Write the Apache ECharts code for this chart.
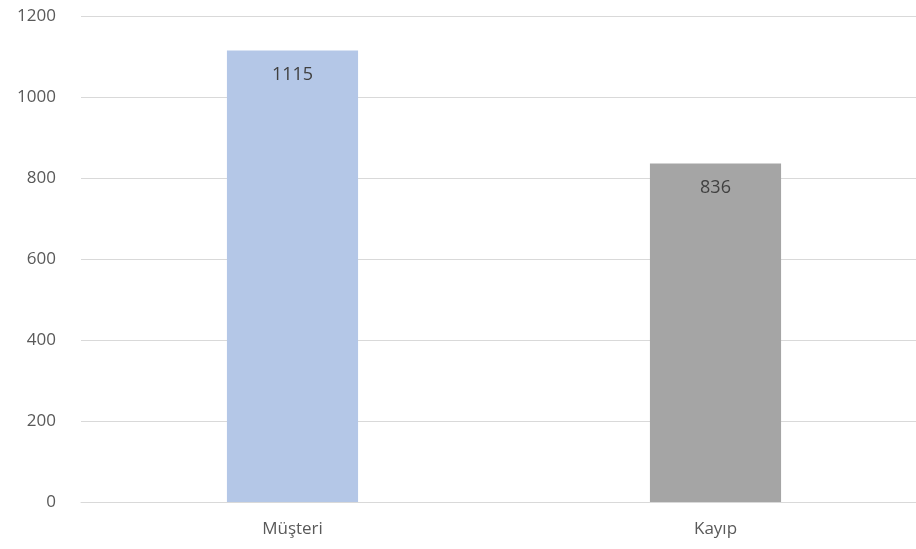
<!DOCTYPE html>
<html>
<head>
<meta charset="utf-8">
<script src="https://cdn.jsdelivr.net/npm/echarts@6/dist/echarts.min.js"></script>
<style>
  html, body { margin: 0; padding: 0; background: #ffffff; overflow: hidden; }
  /* the plot area runs slightly past the right edge of the visible page */
  #chart { width: 927px; height: 549px; }
</style>
</head>
<body>
<div id="chart"></div>
<script>
// Customer count vs. churned customers
const categories = ['Müşteri', 'Kayıp'];
const values = [1115, 836];
const barColors = ['#B4C7E7', '#A5A5A5'];
const yTicks = [0, 200, 400, 600, 800, 1000, 1200];

const textFont = 'Open Sans';

const chart = echarts.init(document.getElementById('chart'));
chart.setOption({
  backgroundColor: '#ffffff',
  animation: false,
  grid: { left: 81, right: 0, top: 16, bottom: 47, containLabel: false },
  xAxis: {
    type: 'category',
    data: categories,
    axisLine: { lineStyle: { color: '#D9D9D9', width: 1 } },
    axisTick: { show: false },
    axisLabel: { color: '#595959', fontSize: 17, fontFamily: textFont, margin: 19 }
  },
  yAxis: {
    type: 'value',
    min: yTicks[0],
    max: yTicks[yTicks.length - 1],
    interval: 200,
    axisLine: { show: false },
    axisTick: { show: false },
    splitLine: { lineStyle: { color: '#D9D9D9', width: 1 } },
    axisLabel: {
      color: '#595959', fontSize: 17, fontFamily: textFont, margin: 25,
      formatter: (v) => String(v)
    }
  },
  series: [{
    type: 'bar',
    barWidth: '31%',
    data: values.map((v, i) => ({ value: v, itemStyle: { color: barColors[i] } })),
    label: {
      show: true,
      position: 'insideTop',
      distance: 15,
      color: '#404040',
      fontSize: 18,
      fontFamily: textFont
    }
  }]
});
</script>
</body>
</html>
